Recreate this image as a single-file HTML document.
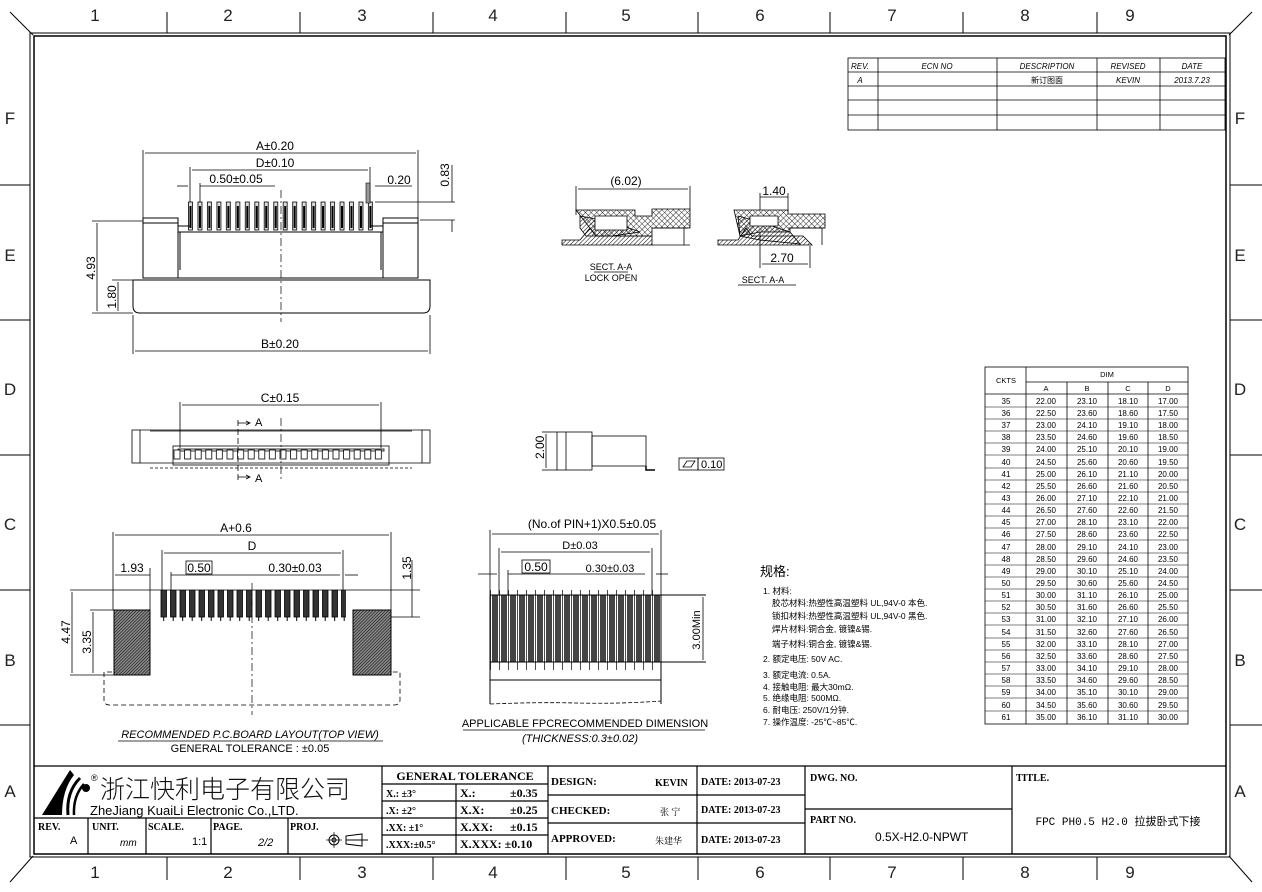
<!DOCTYPE html>
<html><head><meta charset="utf-8"><style>
html,body{margin:0;padding:0;background:#fff;}
svg{display:block;font-family:"Liberation Sans","Noto Sans CJK SC",sans-serif;}
.s{font-family:"Liberation Serif","Noto Serif CJK SC",serif;font-weight:bold;}
</style></head><body>
<svg width="1262" height="892" viewBox="0 0 1262 892" xmlns="http://www.w3.org/2000/svg" stroke="#000" fill="none" stroke-width="1">
<defs>
<pattern id="hd" width="3" height="3" patternUnits="userSpaceOnUse" patternTransform="rotate(45)"><line x1="0" y1="0" x2="0" y2="3" stroke="#000" stroke-width="1"/></pattern>
<pattern id="hd2" width="2.2" height="2.2" patternUnits="userSpaceOnUse" patternTransform="rotate(45)"><rect width="2.2" height="2.2" fill="#888" stroke="none"/><line x1="0" y1="0" x2="0" y2="2.2" stroke="#000" stroke-width="1"/></pattern>
<pattern id="hx" width="4" height="4" patternUnits="userSpaceOnUse" patternTransform="rotate(45)"><rect width="4" height="4" fill="#fff" stroke="none"/><line x1="0" y1="0" x2="0" y2="4" stroke="#000" stroke-width="0.8"/><line x1="0" y1="0" x2="4" y2="0" stroke="#000" stroke-width="0.8"/></pattern>
<pattern id="pinT" x="188" y="0" width="9.47" height="892" patternUnits="userSpaceOnUse"><rect x="0.5" y="202" width="4" height="28" stroke="#000" stroke-width="0.8" fill="#ddd"/><line x1="2.5" y1="206" x2="2.5" y2="228" stroke="#000" stroke-width="2"/></pattern>
<pattern id="padB" x="160" y="0" width="9.5" height="892" patternUnits="userSpaceOnUse"><rect x="1" y="590" width="5.5" height="27" fill="#333" stroke="#000" stroke-width="0.8"/><line x1="3.7" y1="617" x2="3.7" y2="621" stroke="#000"/></pattern>
<pattern id="fpc" x="490" y="0" width="9" height="892" patternUnits="userSpaceOnUse"><rect x="2" y="595" width="6" height="67" fill="#444" stroke="none"/><line x1="0.5" y1="590" x2="0.5" y2="670" stroke="#000" stroke-width="0.7"/></pattern>
<pattern id="cnt" x="172" y="0" width="10.6" height="892" patternUnits="userSpaceOnUse"><rect x="2" y="450" width="6" height="9" stroke="#000" stroke-width="0.8" fill="#fff"/></pattern>
</defs>

<!-- frame -->
<rect x="30" y="33" width="1200" height="824"/>
<rect x="34" y="36" width="1192" height="818" stroke-width="1.5"/>
<line x1="10" y1="12" x2="33" y2="35"/><line x1="1252" y1="12" x2="1229" y2="35"/>
<line x1="10" y1="882" x2="33" y2="856"/><line x1="1252" y1="882" x2="1229" y2="856"/>
<g stroke="#000">
<line x1="167" y1="12" x2="167" y2="33"/><line x1="300" y1="12" x2="300" y2="33"/><line x1="433" y1="12" x2="433" y2="33"/><line x1="566" y1="12" x2="566" y2="33"/><line x1="698" y1="12" x2="698" y2="33"/><line x1="830" y1="12" x2="830" y2="33"/><line x1="963" y1="12" x2="963" y2="33"/><line x1="1097" y1="12" x2="1097" y2="33"/>
<line x1="167" y1="857" x2="167" y2="880"/><line x1="300" y1="857" x2="300" y2="880"/><line x1="433" y1="857" x2="433" y2="880"/><line x1="566" y1="857" x2="566" y2="880"/><line x1="698" y1="857" x2="698" y2="880"/><line x1="830" y1="857" x2="830" y2="880"/><line x1="963" y1="857" x2="963" y2="880"/><line x1="1097" y1="857" x2="1097" y2="880"/>
<line x1="0" y1="185" x2="30" y2="185"/><line x1="0" y1="320" x2="30" y2="320"/><line x1="0" y1="455" x2="30" y2="455"/><line x1="0" y1="590" x2="30" y2="590"/><line x1="0" y1="725" x2="30" y2="725"/>
<line x1="1230" y1="185" x2="1262" y2="185"/><line x1="1230" y1="320" x2="1262" y2="320"/><line x1="1230" y1="455" x2="1262" y2="455"/><line x1="1230" y1="590" x2="1262" y2="590"/><line x1="1230" y1="725" x2="1262" y2="725"/>
</g>
<g fill="#222" stroke="none" font-size="17" text-anchor="middle">
<text x="95" y="21">1</text><text x="228" y="21">2</text><text x="362" y="21">3</text><text x="493" y="21">4</text><text x="626" y="21">5</text><text x="760" y="21">6</text><text x="892" y="21">7</text><text x="1025" y="21">8</text><text x="1130" y="21">9</text>
<text x="95" y="878">1</text><text x="228" y="878">2</text><text x="362" y="878">3</text><text x="493" y="878">4</text><text x="626" y="878">5</text><text x="760" y="878">6</text><text x="892" y="878">7</text><text x="1025" y="878">8</text><text x="1130" y="878">9</text>
<text x="10" y="124">F</text><text x="10" y="261">E</text><text x="10" y="395">D</text><text x="10" y="530">C</text><text x="10" y="666">B</text><text x="10" y="797">A</text>
<text x="1240" y="124">F</text><text x="1240" y="261">E</text><text x="1240" y="395">D</text><text x="1240" y="530">C</text><text x="1240" y="666">B</text><text x="1240" y="797">A</text>
</g>

<!-- rev table -->
<g stroke-width="0.8">
<rect x="848" y="58" width="377" height="72"/>
<line x1="848" y1="72" x2="1225" y2="72"/><line x1="848" y1="86" x2="1225" y2="86"/><line x1="848" y1="100" x2="1225" y2="100"/><line x1="848" y1="115" x2="1225" y2="115"/>
<line x1="878" y1="58" x2="878" y2="130"/><line x1="997" y1="58" x2="997" y2="130"/><line x1="1097" y1="58" x2="1097" y2="130"/><line x1="1160" y1="58" x2="1160" y2="130"/>
</g>
<g fill="#000" stroke="none" font-size="8" font-style="italic" text-anchor="middle">
<text x="860" y="69">REV.</text><text x="937" y="69">ECN NO</text><text x="1047" y="69">DESCRIPTION</text><text x="1128" y="69">REVISED</text><text x="1192" y="69">DATE</text>
<text x="860" y="83">A</text><text x="1047" y="83" font-style="normal">新订图面</text><text x="1128" y="83">KEVIN</text><text x="1192" y="83">2013.7.23</text>
</g>

<!-- TOP LEFT VIEW -->
<g stroke-width="0.8">
<line x1="143" y1="150" x2="143" y2="222"/><line x1="418" y1="150" x2="418" y2="222"/>
<line x1="145" y1="153" x2="416" y2="153"/>
<line x1="190" y1="167" x2="190" y2="205"/><line x1="370" y1="167" x2="370" y2="205"/>
<line x1="192" y1="170" x2="368" y2="170"/>
<line x1="200" y1="183" x2="200" y2="205"/><line x1="200" y1="186" x2="275" y2="186"/><line x1="177" y1="186" x2="188" y2="186"/>
<line x1="375" y1="186" x2="412" y2="186"/>
<line x1="375" y1="202" x2="455" y2="202"/><line x1="420" y1="220" x2="455" y2="220"/><line x1="452" y1="165" x2="452" y2="202"/><line x1="452" y1="220" x2="452" y2="232"/>
</g>
<rect x="186" y="200" width="190" height="32" fill="url(#pinT)" stroke="none"/>
<rect x="366" y="183" width="4" height="20" fill="#999" stroke-width="0.6"/>
<g stroke-width="1">
<path d="M145 221 H178 V226 H190 M370 226 H383 V221 H418"/>
<path d="M143 218 h35 v5 h-35z M383 218 h35 v5 h-35z" fill="#fff"/>
<path d="M143 223 V278 H418 V223"/>
<line x1="178" y1="226" x2="178" y2="278"/><line x1="383" y1="226" x2="383" y2="278"/>
<line x1="180" y1="232" x2="180" y2="270"/><line x1="381" y1="232" x2="381" y2="270"/>
<line x1="178" y1="232" x2="383" y2="232"/>
<path d="M133 280 H430 V306 Q430 313 423 313 H140 Q133 313 133 306 Z"/>
</g>
<line x1="281" y1="190" x2="281" y2="322" stroke-dasharray="8,3,2,3" stroke-width="0.7"/>
<g stroke-width="0.8">
<line x1="133" y1="315" x2="133" y2="354"/><line x1="430" y1="315" x2="430" y2="354"/><line x1="135" y1="351" x2="428" y2="351"/>
<line x1="92" y1="221" x2="143" y2="221"/><line x1="97" y1="223" x2="97" y2="311"/><line x1="92" y1="313" x2="133" y2="313"/>
<line x1="112" y1="280" x2="133" y2="280"/><line x1="118" y1="282" x2="118" y2="311"/>
</g>
<g fill="#000" stroke="none" font-size="12" text-anchor="middle">
<text x="275" y="150">A±0.20</text><text x="275" y="167">D±0.10</text><text x="236" y="183">0.50±0.05</text><text x="399" y="184">0.20</text>
<text x="280" y="348">B±0.20</text>
<text transform="translate(449,175) rotate(-90)">0.83</text>
<text transform="translate(95,268) rotate(-90)">4.93</text>
<text transform="translate(116,297) rotate(-90)">1.80</text>
</g>

<!-- SECTION VIEWS -->
<g stroke-width="0.8">
<line x1="576" y1="186" x2="576" y2="215"/><line x1="690" y1="186" x2="690" y2="210"/><line x1="578" y1="189" x2="688" y2="189"/>
<path d="M576 210 H635 V216 H652 V209 H690 V228 H652 V236 H628 L596 236 Z" fill="url(#hx)"/>
<path d="M580 216 L612 222 L640 232 L612 236 L586 236 L580 228 Z" fill="url(#hd)"/>
<path d="M562 240 H580 L590 228 L596 236 H652 V245 H562 Z" fill="url(#hd)"/>
<path d="M595 216 h32 v14 h-32z" fill="#fff"/>
<line x1="652" y1="228" x2="688" y2="228"/><line x1="684" y1="228" x2="684" y2="245"/><line x1="652" y1="245" x2="690" y2="245"/>

<line x1="760" y1="193" x2="760" y2="268"/><line x1="788" y1="193" x2="788" y2="212"/><line x1="760" y1="197" x2="788" y2="197"/>
<path d="M734 210 H788 V214 H825 V228 H790 V232 H760 L740 236 Z" fill="url(#hx)"/>
<path d="M738 216 L760 222 L790 232 L800 244 L760 240 L740 236 Z" fill="url(#hd)"/>
<path d="M718 240 H738 L746 228 L752 236 H803 L812 245 H718 Z" fill="url(#hd)"/>
<path d="M750 216 h28 v10 h-28z" fill="#fff"/>
<line x1="788" y1="228" x2="825" y2="228"/><line x1="822" y1="228" x2="822" y2="245"/>
<line x1="810" y1="246" x2="810" y2="268"/><line x1="762" y1="264" x2="808" y2="264"/>
<line x1="594" y1="272" x2="628" y2="272"/><line x1="738" y1="285" x2="796" y2="285"/>
</g>
<g fill="#000" stroke="none" text-anchor="middle">
<text x="626" y="185" font-size="12">(6.02)</text><text x="774" y="195" font-size="12">1.40</text><text x="782" y="262" font-size="12">2.70</text>
<text x="611" y="270" font-size="9">SECT. A-A</text><text x="611" y="281" font-size="9">LOCK OPEN</text><text x="763" y="283" font-size="9">SECT. A-A</text>
</g>

<!-- MIDDLE VIEW -->
<g stroke-width="0.8">
<line x1="180" y1="402" x2="180" y2="448"/><line x1="381" y1="402" x2="381" y2="448"/><line x1="182" y1="405" x2="379" y2="405"/>
<rect x="132" y="430" width="8" height="33"/><rect x="422" y="430" width="8" height="33"/>
<path d="M140 430 H422 M140 463 H422"/>
<line x1="150" y1="431" x2="412" y2="431"/><line x1="150" y1="468" x2="412" y2="468" stroke-dasharray="3,2"/>
<rect x="173" y="446" width="216" height="19"/>
<rect x="178" y="449" width="206" height="2"/>
</g>
<rect x="172" y="446" width="212" height="16" fill="url(#cnt)" stroke="none"/>
<line x1="238" y1="420" x2="238" y2="482" stroke-dasharray="6,3" stroke-width="0.8"/>
<line x1="281" y1="418" x2="281" y2="480" stroke-dasharray="8,3,2,3" stroke-width="0.7"/>
<path d="M238 423 H250 M246 421 L250 423 L246 425 M238 477 H250 M246 475 L250 477 L246 479" stroke-width="0.8"/>
<g fill="#000" stroke="none" font-size="11">
<text x="255" y="426">A</text><text x="255" y="482">A</text>
<text x="280" y="402" font-size="12" text-anchor="middle">C±0.15</text>
</g>

<!-- SIDE VIEW -->
<g stroke-width="0.8">
<rect x="557" y="432" width="35" height="38"/><line x1="566" y1="432" x2="566" y2="470"/>
<rect x="592" y="436" width="54" height="30"/>
<path d="M646 466 V470 H655" stroke-width="1.5"/>
<line x1="542" y1="432" x2="557" y2="432"/><line x1="542" y1="470" x2="557" y2="470"/><line x1="546" y1="434" x2="546" y2="468"/>
<rect x="679" y="458" width="19" height="12"/><rect x="698" y="458" width="26" height="12"/>
<path d="M683 467 L687 461 H695 L691 467 Z"/>
</g>
<g fill="#000" stroke="none" font-size="11"><text transform="translate(544,459) rotate(-90)" font-size="12">2.00</text><text x="701" y="468">0.10</text></g>

<!-- BOTTOM LEFT LAYOUT -->
<g stroke-width="0.8">
<line x1="113" y1="532" x2="113" y2="610"/><line x1="391" y1="532" x2="391" y2="610"/><line x1="115" y1="535" x2="389" y2="535"/>
<line x1="162" y1="550" x2="162" y2="590"/><line x1="343" y1="550" x2="343" y2="590"/><line x1="164" y1="553" x2="341" y2="553"/>
<line x1="115" y1="575" x2="150" y2="575"/><line x1="150" y1="568" x2="150" y2="610"/>
<line x1="171" y1="575" x2="340" y2="575"/><line x1="171" y1="572" x2="171" y2="590"/>
<line x1="345" y1="575" x2="358" y2="575"/>
<rect x="186" y="561" width="26" height="13"/>
<line x1="70" y1="590" x2="420" y2="590"/><line x1="90" y1="610" x2="114" y2="610"/><line x1="70" y1="675" x2="114" y2="675"/>
<line x1="72" y1="592" x2="72" y2="673"/><line x1="93" y1="612" x2="93" y2="673"/>
<line x1="391" y1="617" x2="420" y2="617"/><line x1="412" y1="560" x2="412" y2="617"/>
</g>
<rect x="160" y="590" width="186" height="31" fill="url(#padB)" stroke="none"/>
<rect x="114" y="610" width="36" height="65" fill="url(#hd2)" stroke-width="1"/>
<rect x="353" y="610" width="38" height="65" fill="url(#hd2)" stroke-width="1"/>
<path d="M112 672 H104 V700 Q104 705 110 705 H394 Q400 705 400 700 V672 H391" stroke-dasharray="5,3" stroke-width="0.8"/>
<line x1="252" y1="583" x2="252" y2="715" stroke-dasharray="8,3,2,3" stroke-width="0.7"/>
<line x1="118" y1="741" x2="383" y2="741" stroke-width="0.8"/>
<g fill="#000" stroke="none" font-size="12" text-anchor="middle">
<text x="236" y="532">A+0.6</text><text x="252" y="550">D</text><text x="132" y="572">1.93</text><text x="199" y="572">0.50</text><text x="295" y="572">0.30±0.03</text>
<text transform="translate(70,632) rotate(-90)">4.47</text><text transform="translate(91,642) rotate(-90)">3.35</text><text transform="translate(411,568) rotate(-90)">1.35</text>
<text x="250" y="738" font-size="11" font-style="italic">RECOMMENDED  P.C.BOARD  LAYOUT(TOP  VIEW)</text>
<text x="250" y="752" font-size="11">GENERAL  TOLERANCE  :  ±0.05</text>
</g>

<!-- FPC -->
<g stroke-width="0.8">
<line x1="490" y1="530" x2="490" y2="595"/><line x1="661" y1="530" x2="661" y2="595"/><line x1="492" y1="534" x2="659" y2="534"/>
<line x1="499" y1="548" x2="499" y2="595"/><line x1="652" y1="548" x2="652" y2="595"/><line x1="501" y1="552" x2="650" y2="552"/>
<line x1="508" y1="570" x2="508" y2="595"/><line x1="508" y1="574" x2="645" y2="574"/><line x1="656" y1="574" x2="668" y2="574"/><line x1="478" y1="574" x2="497" y2="574"/>
<rect x="522" y="560" width="28" height="13"/>
</g>
<rect x="490" y="590" width="171" height="80" fill="url(#fpc)" stroke="none"/>
<g stroke-width="1">
<line x1="490" y1="595" x2="706" y2="595"/><line x1="490" y1="662" x2="706" y2="662"/><line x1="490" y1="680" x2="661" y2="680"/>
<line x1="490" y1="595" x2="490" y2="704"/><line x1="661" y1="595" x2="661" y2="704"/>
<path d="M490 704 Q540 702 575 703 Q620 704 661 701" stroke-dasharray="4,2" stroke-width="0.8"/>
<line x1="703" y1="597" x2="703" y2="660" stroke-width="0.8"/>
<line x1="463" y1="730" x2="705" y2="730" stroke-width="0.8"/>
</g>
<g fill="#000" stroke="none" font-size="12" text-anchor="middle">
<text x="592" y="528">(No.of PIN+1)X0.5±0.05</text><text x="580" y="549" font-size="11">D±0.03</text><text x="536" y="571">0.50</text><text x="610" y="572" font-size="11">0.30±0.03</text>
<text transform="translate(700,630) rotate(-90)" font-size="11">3.00Min</text>
<text x="585" y="727" font-size="11">APPLICABLE  FPCRECOMMENDED  DIMENSION</text>
<text x="580" y="742" font-size="11" font-style="italic">(THICKNESS:0.3±0.02)</text>
</g>

<!-- SPEC -->
<g fill="#000" stroke="none" font-size="8.5">
<text x="760" y="576" font-size="13">规格:</text>
<text x="763" y="594">1. 材料:</text>
<text x="772" y="606">胶芯材料:热塑性高温塑料 UL,94V-0 本色.</text>
<text x="772" y="619">锁扣材料:热塑性高温塑料 UL,94V-0 黑色.</text>
<text x="772" y="632">焊片材料:铜合金, 镀镍&amp;锡.</text>
<text x="772" y="647">端子材料:铜合金, 镀镍&amp;锡.</text>
<text x="763" y="662">2. 额定电压: 50V AC.</text>
<text x="763" y="678">3. 额定电流: 0.5A.</text>
<text x="763" y="690">4. 接触电阻: 最大30mΩ.</text>
<text x="763" y="701">5. 绝缘电阻: 500MΩ.</text>
<text x="763" y="713">6. 耐电压: 250V/1分钟.</text>
<text x="763" y="725">7. 操作温度: -25℃~85℃.</text>
</g>

<!-- CKTS TABLE -->
<g stroke-width="0.8">
<rect x="985" y="367" width="203" height="357"/>
<line x1="1026" y1="367" x2="1026" y2="724"/>
<line x1="1026" y1="382" x2="1188" y2="382"/>
<line x1="985" y1="394" x2="1188" y2="394"/>
<line x1="1067" y1="382" x2="1067" y2="724"/><line x1="1108" y1="382" x2="1108" y2="724"/><line x1="1148" y1="382" x2="1148" y2="724"/>
</g>
<g stroke-width="0.6">
<line x1="985" y1="407" x2="1188" y2="407"/><line x1="985" y1="419" x2="1188" y2="419"/><line x1="985" y1="431" x2="1188" y2="431"/><line x1="985" y1="443" x2="1188" y2="443"/><line x1="985" y1="455" x2="1188" y2="455"/><line x1="985" y1="468" x2="1188" y2="468"/><line x1="985" y1="480" x2="1188" y2="480"/><line x1="985" y1="492" x2="1188" y2="492"/><line x1="985" y1="504" x2="1188" y2="504"/><line x1="985" y1="516" x2="1188" y2="516"/><line x1="985" y1="528" x2="1188" y2="528"/><line x1="985" y1="540" x2="1188" y2="540"/><line x1="985" y1="553" x2="1188" y2="553"/><line x1="985" y1="565" x2="1188" y2="565"/><line x1="985" y1="577" x2="1188" y2="577"/><line x1="985" y1="589" x2="1188" y2="589"/><line x1="985" y1="601" x2="1188" y2="601"/><line x1="985" y1="613" x2="1188" y2="613"/><line x1="985" y1="625" x2="1188" y2="625"/><line x1="985" y1="638" x2="1188" y2="638"/><line x1="985" y1="650" x2="1188" y2="650"/><line x1="985" y1="662" x2="1188" y2="662"/><line x1="985" y1="674" x2="1188" y2="674"/><line x1="985" y1="686" x2="1188" y2="686"/><line x1="985" y1="698" x2="1188" y2="698"/><line x1="985" y1="711" x2="1188" y2="711"/>
</g>
<g fill="#000" stroke="none" font-size="7.5" text-anchor="middle">
<text x="1006" y="383">CKTS</text><text x="1107" y="377">DIM</text>
<text x="1046" y="391">A</text><text x="1087" y="391">B</text><text x="1128" y="391">C</text><text x="1168" y="391">D</text>
</g>
<g fill="#000" stroke="none" font-size="8" text-anchor="middle">
<text x="1006" y="404">35</text><text x="1046" y="404">22.00</text><text x="1087" y="404">23.10</text><text x="1128" y="404">18.10</text><text x="1168" y="404">17.00</text>
<text x="1006" y="416">36</text><text x="1046" y="416">22.50</text><text x="1087" y="416">23.60</text><text x="1128" y="416">18.60</text><text x="1168" y="416">17.50</text>
<text x="1006" y="428">37</text><text x="1046" y="428">23.00</text><text x="1087" y="428">24.10</text><text x="1128" y="428">19.10</text><text x="1168" y="428">18.00</text>
<text x="1006" y="440">38</text><text x="1046" y="440">23.50</text><text x="1087" y="440">24.60</text><text x="1128" y="440">19.60</text><text x="1168" y="440">18.50</text>
<text x="1006" y="452">39</text><text x="1046" y="452">24.00</text><text x="1087" y="452">25.10</text><text x="1128" y="452">20.10</text><text x="1168" y="452">19.00</text>
<text x="1006" y="465">40</text><text x="1046" y="465">24.50</text><text x="1087" y="465">25.60</text><text x="1128" y="465">20.60</text><text x="1168" y="465">19.50</text>
<text x="1006" y="477">41</text><text x="1046" y="477">25.00</text><text x="1087" y="477">26.10</text><text x="1128" y="477">21.10</text><text x="1168" y="477">20.00</text>
<text x="1006" y="489">42</text><text x="1046" y="489">25.50</text><text x="1087" y="489">26.60</text><text x="1128" y="489">21.60</text><text x="1168" y="489">20.50</text>
<text x="1006" y="501">43</text><text x="1046" y="501">26.00</text><text x="1087" y="501">27.10</text><text x="1128" y="501">22.10</text><text x="1168" y="501">21.00</text>
<text x="1006" y="513">44</text><text x="1046" y="513">26.50</text><text x="1087" y="513">27.60</text><text x="1128" y="513">22.60</text><text x="1168" y="513">21.50</text>
<text x="1006" y="525">45</text><text x="1046" y="525">27.00</text><text x="1087" y="525">28.10</text><text x="1128" y="525">23.10</text><text x="1168" y="525">22.00</text>
<text x="1006" y="537">46</text><text x="1046" y="537">27.50</text><text x="1087" y="537">28.60</text><text x="1128" y="537">23.60</text><text x="1168" y="537">22.50</text>
<text x="1006" y="550">47</text><text x="1046" y="550">28.00</text><text x="1087" y="550">29.10</text><text x="1128" y="550">24.10</text><text x="1168" y="550">23.00</text>
<text x="1006" y="562">48</text><text x="1046" y="562">28.50</text><text x="1087" y="562">29.60</text><text x="1128" y="562">24.60</text><text x="1168" y="562">23.50</text>
<text x="1006" y="574">49</text><text x="1046" y="574">29.00</text><text x="1087" y="574">30.10</text><text x="1128" y="574">25.10</text><text x="1168" y="574">24.00</text>
<text x="1006" y="586">50</text><text x="1046" y="586">29.50</text><text x="1087" y="586">30.60</text><text x="1128" y="586">25.60</text><text x="1168" y="586">24.50</text>
<text x="1006" y="598">51</text><text x="1046" y="598">30.00</text><text x="1087" y="598">31.10</text><text x="1128" y="598">26.10</text><text x="1168" y="598">25.00</text>
<text x="1006" y="610">52</text><text x="1046" y="610">30.50</text><text x="1087" y="610">31.60</text><text x="1128" y="610">26.60</text><text x="1168" y="610">25.50</text>
<text x="1006" y="622">53</text><text x="1046" y="622">31.00</text><text x="1087" y="622">32.10</text><text x="1128" y="622">27.10</text><text x="1168" y="622">26.00</text>
<text x="1006" y="635">54</text><text x="1046" y="635">31.50</text><text x="1087" y="635">32.60</text><text x="1128" y="635">27.60</text><text x="1168" y="635">26.50</text>
<text x="1006" y="647">55</text><text x="1046" y="647">32.00</text><text x="1087" y="647">33.10</text><text x="1128" y="647">28.10</text><text x="1168" y="647">27.00</text>
<text x="1006" y="659">56</text><text x="1046" y="659">32.50</text><text x="1087" y="659">33.60</text><text x="1128" y="659">28.60</text><text x="1168" y="659">27.50</text>
<text x="1006" y="671">57</text><text x="1046" y="671">33.00</text><text x="1087" y="671">34.10</text><text x="1128" y="671">29.10</text><text x="1168" y="671">28.00</text>
<text x="1006" y="683">58</text><text x="1046" y="683">33.50</text><text x="1087" y="683">34.60</text><text x="1128" y="683">29.60</text><text x="1168" y="683">28.50</text>
<text x="1006" y="695">59</text><text x="1046" y="695">34.00</text><text x="1087" y="695">35.10</text><text x="1128" y="695">30.10</text><text x="1168" y="695">29.00</text>
<text x="1006" y="708">60</text><text x="1046" y="708">34.50</text><text x="1087" y="708">35.60</text><text x="1128" y="708">30.60</text><text x="1168" y="708">29.50</text>
<text x="1006" y="720">61</text><text x="1046" y="720">35.00</text><text x="1087" y="720">36.10</text><text x="1128" y="720">31.10</text><text x="1168" y="720">30.00</text>
</g>

<!-- TITLE BLOCK -->
<g stroke-width="1.2">
<line x1="34" y1="766" x2="1226" y2="766"/>
<line x1="34" y1="818" x2="382" y2="818"/>
<line x1="88" y1="818" x2="88" y2="854"/><line x1="146" y1="818" x2="146" y2="854"/><line x1="211" y1="818" x2="211" y2="854"/><line x1="288" y1="818" x2="288" y2="854"/>
<line x1="382" y1="766" x2="382" y2="854"/><line x1="456" y1="784" x2="456" y2="854"/><line x1="548" y1="766" x2="548" y2="854"/>
<line x1="382" y1="784" x2="548" y2="784"/><line x1="382" y1="801" x2="548" y2="801"/><line x1="382" y1="818" x2="548" y2="818"/><line x1="382" y1="835" x2="548" y2="835"/>
<line x1="697" y1="766" x2="697" y2="854"/><line x1="805" y1="766" x2="805" y2="854"/><line x1="1012" y1="766" x2="1012" y2="854"/>
<line x1="548" y1="795" x2="805" y2="795"/><line x1="548" y1="823" x2="805" y2="823"/><line x1="805" y1="809" x2="1012" y2="809"/>
</g>
<!-- logo -->
<path d="M42 815 L70 770 L74 775 Q62 790 62 815 Z" fill="#000" stroke="none"/>
<path d="M68 815 Q66 792 80 778" stroke-width="3"/><path d="M74 815 Q73 796 84 784" stroke-width="2.5"/>
<circle cx="86" cy="788" r="4" fill="#000" stroke="none"/>
<g fill="#000" stroke="none">
<text x="91" y="781" font-size="9">®</text>
<text x="100" y="798" font-size="25" font-weight="300" fill="#111">浙江快利电子有限公司</text>
<text x="90" y="815" font-size="13">ZheJiang KuaiLi Electronic Co.,LTD.</text>
<text x="38" y="830" font-size="10" class="s">REV.</text><text x="70" y="844" font-size="11">A</text>
<text x="92" y="830" font-size="10" class="s">UNIT.</text><text x="120" y="846" font-size="10" font-style="italic">mm</text>
<text x="148" y="830" font-size="10" class="s">SCALE.</text><text x="192" y="845" font-size="11">1:1</text>
<text x="213" y="830" font-size="10" class="s">PAGE.</text><text x="258" y="846" font-size="11" font-style="italic">2/2</text>
<text x="290" y="830" font-size="10" class="s">PROJ.</text>
</g>
<circle cx="334" cy="840" r="5"/><circle cx="334" cy="840" r="2"/><line x1="326" y1="840" x2="342" y2="840" stroke-width="0.7"/><line x1="334" y1="832" x2="334" y2="848" stroke-width="0.7"/>
<path d="M346 836 L362 834 V846 L346 844 Z M346 840 H368"/>
<g fill="#000" stroke="none" class="s" font-size="12">
<text x="465" y="780" text-anchor="middle">GENERAL  TOLERANCE</text>
<text x="386" y="797" font-size="10">X.: ±3°</text><text x="386" y="814" font-size="10">.X: ±2°</text><text x="386" y="831" font-size="10">.XX: ±1°</text><text x="386" y="848" font-size="10">.XXX:±0.5°</text>
<text x="460" y="797">X.:</text><text x="510" y="797">±0.35</text>
<text x="460" y="814">X.X:</text><text x="510" y="814">±0.25</text>
<text x="460" y="831">X.XX:</text><text x="510" y="831">±0.15</text>
<text x="460" y="848">X.XXX: ±0.10</text>
<text x="551" y="785" font-size="11">DESIGN:</text><text x="655" y="786" font-size="10">KEVIN</text>
<text x="551" y="814" font-size="11">CHECKED:</text><text x="660" y="815" font-size="9" font-weight="normal">张  宁</text>
<text x="551" y="842" font-size="11">APPROVED:</text><text x="655" y="844" font-size="9" font-weight="normal">朱建华</text>
<text x="701" y="785" font-size="10">DATE: 2013-07-23</text><text x="701" y="813" font-size="10">DATE: 2013-07-23</text><text x="701" y="843" font-size="10">DATE: 2013-07-23</text>
<text x="810" y="781" font-size="10">DWG. NO.</text><text x="810" y="823" font-size="10">PART NO.</text>
<text x="1016" y="781" font-size="10">TITLE.</text>
</g>
<g fill="#000" stroke="none">
<text x="875" y="841" font-size="12">0.5X-H2.0-NPWT</text>
<text x="1118" y="825" font-size="11" text-anchor="middle" font-family="Liberation Mono,'Noto Sans CJK SC',monospace">FPC PH0.5 H2.0 拉拔卧式下接</text>
</g>
</svg>
</body></html>
